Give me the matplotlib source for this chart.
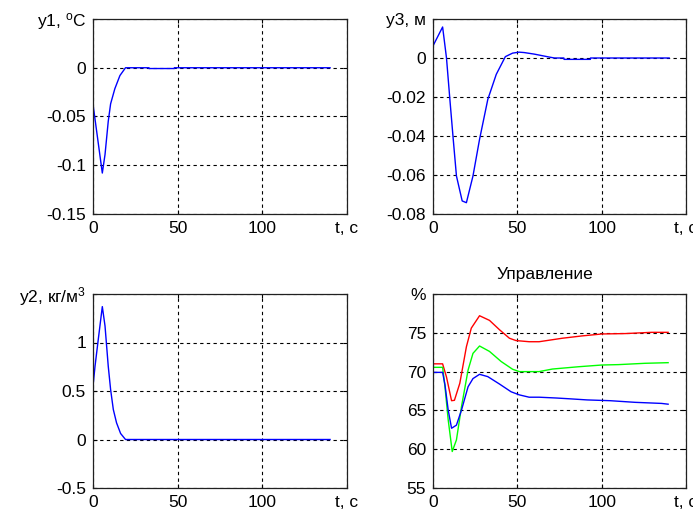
import matplotlib
matplotlib.use("Agg")
import matplotlib.pyplot as plt

plt.rcParams['font.family'] = ['Liberation Sans', 'DejaVu Sans']
plt.rcParams['mathtext.fontset'] = 'custom'
plt.rcParams['mathtext.rm'] = 'Liberation Sans'
plt.rcParams['mathtext.it'] = 'Liberation Sans:italic'
plt.rcParams['mathtext.bf'] = 'Liberation Sans:bold'

# ---- data ----
t1 = [0, 0.2, 5.5, 7.1, 9.0, 10.4, 12.9, 15.9, 19.2, 33, 33.1, 48, 48.1, 140]
y1 = [-0.040, -0.040, -0.108, -0.089, -0.055, -0.037, -0.0215, -0.008, 0, 0,
      -0.0008, -0.0008, 0, 0]

t3 = [0, 5.7, 8, 10, 12, 13.9, 17.3, 19.8, 23.7, 27.6, 32.5, 37.5, 42.9, 47.2,
      51, 54, 60, 68.8, 72, 77.6, 77.7, 93.3, 93.4, 140]
y3 = [0.0062, 0.0159, 0, -0.0212, -0.0417, -0.0605, -0.0733, -0.0742, -0.0605,
      -0.0417, -0.0212, -0.0084, 0.0007, 0.0025, 0.003, 0.0028, 0.002, 0.0005,
      0, 0, -0.0007, -0.0007, 0, 0]

t2 = [0, 1.2, 3.1, 5.5, 7.1, 9, 10.4, 12, 13.9, 16.3, 19.2, 140]
y2 = [0.55, 0.756, 1.03, 1.37, 1.17, 0.756, 0.515, 0.309, 0.172, 0.062, 0, 0]

t_red = [0, 5.7, 8, 11, 12.7, 15.9, 19.8, 22.7, 27.6, 33.5, 39.4, 45.3, 49.2,
         57, 62.9, 76.7, 88.4, 100.2, 113.9, 129.6, 139.4]
u_red = [71.0, 71.0, 69.3, 66.25, 66.3, 68.5, 73.2, 75.6, 77.2, 76.6, 75.4,
         74.3, 74.0, 73.85, 73.85, 74.3, 74.6, 74.85, 74.9, 75.06, 75.06]

t_green = [0, 5.7, 7.1, 9, 11.4, 13.9, 16.9, 20.8, 23.7, 27.6, 33.5, 40.4,
           47.2, 51.2, 62.9, 70.8, 86.5, 100.2, 110, 125.7, 139.4]
u_green = [70.55, 70.55, 68.05, 63.8, 59.7, 61.2, 65.5, 70.2, 72.35, 73.3,
           72.6, 71.3, 70.3, 70.0, 70.0, 70.33, 70.63, 70.85, 70.9, 71.07, 71.15]

t_blue = [0, 5.7, 7.1, 9, 11, 13.9, 16.9, 20.8, 23.7, 27.6, 32.5, 39.4, 46.3,
          51.2, 57, 62.9, 72.8, 80.6, 91.4, 105.1, 119.8, 135.5, 139.4]
u_blue = [69.9, 69.9, 68.3, 65.05, 62.7, 63.1, 65.05, 68.05, 69.1, 69.65,
          69.35, 68.4, 67.4, 67.0, 66.7, 66.7, 66.6, 66.5, 66.35, 66.25, 66.04,
          65.9, 65.8]

x_ticks = [0, 50, 100, 150]
x_labels = ['0', '50', '100', 't, c']

y1_ticks = [-0.15, -0.1, -0.05, 0, 0.05]
y1_labels = ['-0.15', '-0.1', '-0.05', '0', 'y1, $^{\\rm o}$C']
y3_ticks = [-0.08, -0.06, -0.04, -0.02, 0, 0.02]
y3_labels = ['-0.08', '-0.06', '-0.04', '-0.02', '0', 'y3, м']
y2_ticks = [-0.5, 0, 0.5, 1, 1.5]
y2_labels = ['-0.5', '0', '0.5', '1', 'y2, кг/м$^{\\rm 3}$']
u_ticks = [55, 60, 65, 70, 75, 80]
u_labels = ['55', '60', '65', '70', '75', '%']

title_u = 'Управление'

# ---- figure ----
W, H = 693, 513
fig = plt.figure(figsize=(W / 100, H / 100), dpi=100)

L1, L2 = 93 / W, 433 / W
w1, w2 = 254 / W, 253 / W
B_top, B_bot = 1 - 214 / H, 1 - 488 / H
h_top, h_bot = 195 / H, 194 / H

ax1 = fig.add_axes([L1, B_top, w1, h_top])
ax3 = fig.add_axes([L2, B_top, w2, h_top])
ax2 = fig.add_axes([L1, B_bot, w1, h_bot])
ax4 = fig.add_axes([L2, B_bot, w2, h_bot])

FS = 12.5


def style(ax, yt, yl):
    ax.set_xlim(0, 150)
    ax.set_ylim(yt[0], yt[-1])
    ax.set_xticks(x_ticks)
    ax.set_xticklabels(x_labels)
    ax.set_yticks(yt)
    ax.set_yticklabels(yl)
    ax.tick_params(direction='in', length=3, width=0.8, top=True, right=True,
                   labelsize=FS, colors='black', pad=5)
    ax.grid(True, color='black', linestyle=(0, (3, 3)), linewidth=0.8)
    for s in ax.spines.values():
        s.set_linewidth(0.9)
        s.set_color('#202020')


ax1.plot(t1, y1, color='blue', lw=1.0)
style(ax1, y1_ticks, y1_labels)

ax3.plot(t3, y3, color='blue', lw=1.0)
style(ax3, y3_ticks, y3_labels)

ax2.plot(t2, y2, color='blue', lw=1.0)
style(ax2, y2_ticks, y2_labels)

ax4.plot(t_red, u_red, color='red', lw=1.0)
ax4.plot(t_green, u_green, color='#00ff00', lw=1.0)
ax4.plot(t_blue, u_blue, color='blue', lw=1.0)
style(ax4, u_ticks, u_labels)
ax4.text((545 - 433) / 253, 1 + 19 / 194, title_u, transform=ax4.transAxes,
         ha='center', va='center', fontsize=FS)

fig.savefig('out.png', dpi=100)
